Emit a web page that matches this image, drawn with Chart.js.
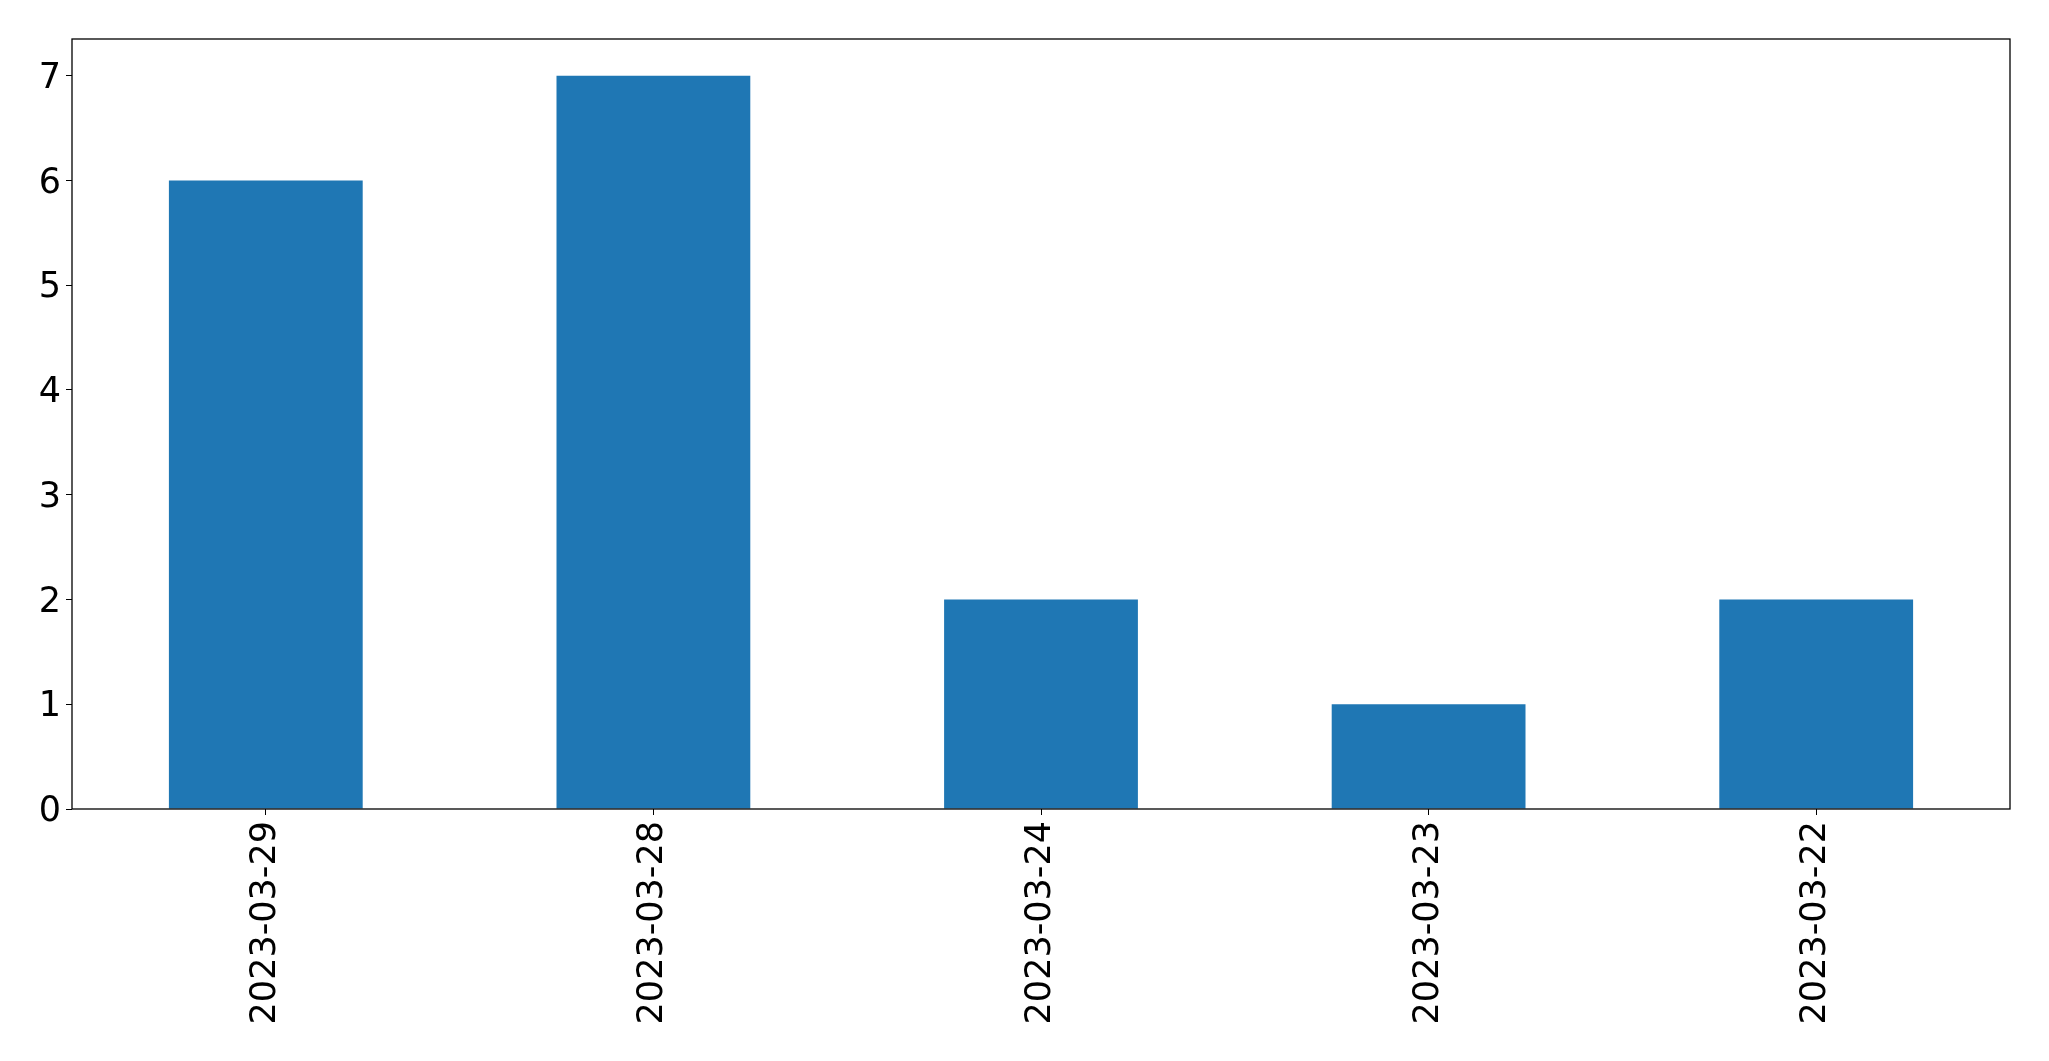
<!DOCTYPE html>
<html>
<head>
<meta charset="utf-8">
<script src="https://cdn.jsdelivr.net/npm/chart.js@4/dist/chart.umd.min.js"></script>
<style>
  html, body { margin: 0; padding: 0; background: #fff; }
  #chart { display: block; }
</style>
</head>
<body>
<canvas id="chart" width="2049" height="1061"></canvas>
<script>
// Data
const dates = ['2023-03-29', '2023-03-28', '2023-03-24', '2023-03-23', '2023-03-22'];
const counts = [6, 7, 2, 1, 2];
const yTicks = [0, 1, 2, 3, 4, 5, 6, 7];

const tickFont = { family: 'DejaVu Sans', size: 35 };

// Draw the full box around the plot area, like matplotlib's spines
const frame = {
    id: 'frame',
    afterDatasetsDraw(chart) {
        const { ctx, chartArea } = chart;
        ctx.save();
        ctx.strokeStyle = '#000';
        ctx.lineWidth = 1.3;
        ctx.strokeRect(chartArea.left, chartArea.top,
            chartArea.right - chartArea.left, chartArea.bottom - chartArea.top);
        ctx.restore();
    }
};

new Chart(document.getElementById('chart'), {
    type: 'bar',
    data: {
        labels: dates,
        datasets: [{
            data: counts,
            backgroundColor: '#1f77b4',
            borderWidth: 0,
            categoryPercentage: 1,
            barPercentage: 0.5
        }]
    },
    options: {
        responsive: false,
        animation: false,
        layout: { padding: { left: 0, top: 39, right: 39, bottom: 0 } },
        plugins: {
            legend: { display: false },
            tooltip: { enabled: false }
        },
        scales: {
            x: {
                grid: {
                    display: true,
                    offset: false,
                    drawOnChartArea: false,
                    drawTicks: true,
                    tickLength: 6,
                    color: '#000'
                },
                border: { display: false },
                ticks: {
                    color: '#000',
                    font: tickFont,
                    minRotation: 90,
                    maxRotation: 90,
                    padding: 6,
                    autoSkip: false
                },
                afterFit(scale) { scale.height = 1061 - 809; }
            },
            y: {
                min: 0,
                max: 7.35,
                afterBuildTicks(scale) {
                    scale.ticks = yTicks.map(v => ({ value: v }));
                },
                grid: {
                    display: true,
                    drawOnChartArea: false,
                    drawTicks: true,
                    tickLength: 6,
                    color: '#000'
                },
                border: { display: false },
                ticks: {
                    color: '#000',
                    font: tickFont,
                    padding: 5,
                    labelOffset: 3
                },
                afterFit(scale) { scale.width = 72; }
            }
        }
    },
    plugins: [frame]
});
</script>
</body>
</html>
